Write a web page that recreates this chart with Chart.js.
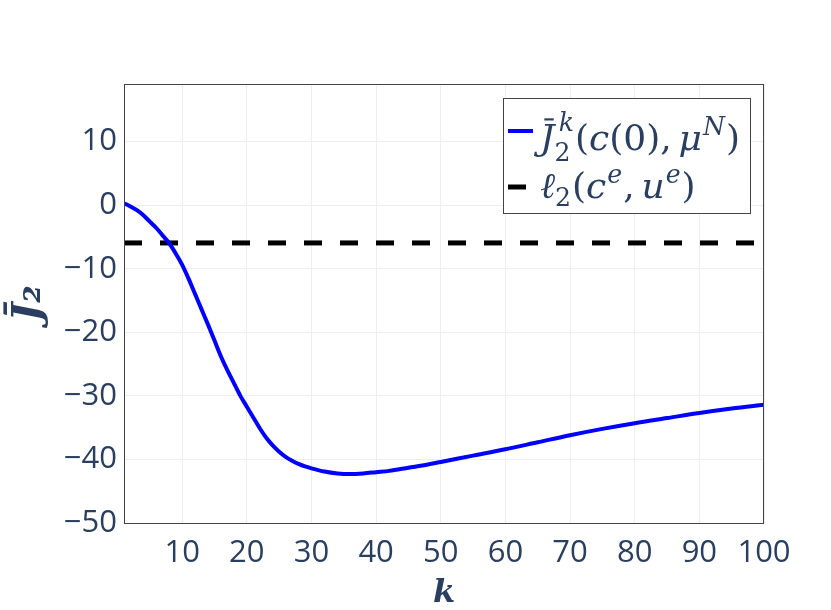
<!DOCTYPE html>
<html>
<head>
<meta charset="utf-8">
<script src="https://cdn.jsdelivr.net/npm/chart.js@4"></script>
<style>
  html, body { margin: 0; padding: 0; background: #fff; }
  #wrap { width: 831px; height: 610px; position: relative; }
</style>
</head>
<body>
<div id="wrap"><canvas id="jChart"></canvas></div>
<script>
// iterations k and the running average J2 bar
const kValues = [1, 2, 3, 4, 5, 6, 7, 8, 9, 10, 11, 12, 13, 14, 15, 16, 17, 18, 19, 20,
    21, 22, 23, 24, 25, 26, 27, 28, 29, 30, 32, 34, 36, 38, 40, 42, 45, 48, 50,
    55, 60, 65, 70, 75, 80, 85, 90, 95, 100];
const jValues = [0.3, -0.2, -0.8, -1.6, -2.6, -3.6, -4.8, -6.0, -7.6, -9.4, -11.6, -14.0, -16.4, -18.8, -21.3, -23.8, -26.0, -28.0, -30.0, -31.7,
    -33.4, -35.1, -36.6, -37.8, -38.8, -39.6, -40.2, -40.7, -41.1, -41.4, -41.9, -42.2, -42.3, -42.2, -42.0, -41.8, -41.3, -40.8, -40.4,
    -39.4, -38.4, -37.3, -36.2, -35.2, -34.3, -33.5, -32.7, -32.0, -31.4];

// steady-state stage cost, constant over k
const refK = [1, 100];
const refValues = [-5.95, -5.95];

const seriesLabels = ['J\u0304_{2}^{k}(c(0), μ^{N})', 'ℓ_{2}(c^{e}, u^{e})'];
const yTicks = [-50, -40, -30, -20, -10, 0, 10];

const textColor = '#2a3f5f';
const mathFont = '"DejaVu Serif"';

// draws a label with simple _{} / ^{} markup (stacked when both follow a char)
function drawMath(ctx, str, x, baseline, size) {
    const tokens = [];
    const re = /([_^])\{([^}]*)\}|([^_^]+)/g;
    let m;
    while ((m = re.exec(str)) !== null) {
        if (m[3]) tokens.push({ kind: 'n', text: m[3] });
        else tokens.push({ kind: m[1] === '_' ? 'sub' : 'sup', text: m[2] });
    }

    function drawRun(text, cx, by, sz) {
        const chars = Array.from(text);
        for (let i = 0; i < chars.length; i++) {
            const ch = chars[i];
            if (ch === '\u0304') continue;
            const italic = /[A-Za-zμℓ]/.test(ch);
            ctx.font = (italic ? 'italic ' : '') + sz + 'px ' + mathFont;
            const w = ctx.measureText(ch).width;
            ctx.fillText(ch, cx, by);
            if (chars[i + 1] === '\u0304') {
                ctx.fillRect(cx + w * 0.3, by - sz * 0.88, w * 0.65, Math.max(1.5, sz * 0.06));
            }
            cx += (ch === ' ' ? w * 0.6 : w);
        }
        return cx;
    }

    const small = size * 0.7;
    let cx = x;
    for (let i = 0; i < tokens.length; i++) {
        const t = tokens[i];
        if (t.kind === 'n') {
            cx = drawRun(t.text, cx, baseline, size);
        } else {
            const nxt = tokens[i + 1];
            if (nxt && nxt.kind !== 'n' && nxt.kind !== t.kind) {
                const sub = t.kind === 'sub' ? t : nxt;
                const sup = t.kind === 'sup' ? t : nxt;
                const e1 = drawRun(sub.text, cx, baseline + size * 0.3, small);
                const e2 = drawRun(sup.text, cx + size * 0.12, baseline - size * 0.52, small);
                cx = Math.max(e1, e2) + 1;
                i++;
            } else if (t.kind === 'sub') {
                cx = drawRun(t.text, cx, baseline + size * 0.22, small) + 1;
            } else {
                cx = drawRun(t.text, cx + 1, baseline - size * 0.42, small) + 1;
            }
        }
    }
    return cx;
}

const framePlugin = {
    id: 'frame',
    afterDraw(chart) {
        const { ctx, chartArea } = chart;
        ctx.save();
        ctx.strokeStyle = '#444';
        ctx.lineWidth = 1;
        ctx.strokeRect(chartArea.left + 0.5, chartArea.top + 0.5,
            chartArea.right - chartArea.left - 1, chartArea.bottom - chartArea.top);
        ctx.restore();
    }
};

const legendPlugin = {
    id: 'boxLegend',
    afterDraw(chart) {
        const { ctx, chartArea } = chart;
        const w = 247, h = 115;
        const x0 = chartArea.right - 14 - w;
        const y0 = chartArea.top + 14;
        ctx.save();
        ctx.fillStyle = '#fff';
        ctx.fillRect(x0, y0, w, h);
        ctx.strokeStyle = '#444';
        ctx.lineWidth = 1;
        ctx.strokeRect(x0 + 0.5, y0 + 0.5, w, h);

        const rows = [{ y: y0 + 33, base: y0 + 52 }, { y: y0 + 89, base: y0 + 100 }];
        chart.data.datasets.forEach((ds, i) => {
            const r = rows[i];
            ctx.strokeStyle = ds.borderColor;
            ctx.lineWidth = ds.borderWidth;
            ctx.setLineDash([]);
            ctx.beginPath();
            ctx.moveTo(x0 + 5, r.y);
            ctx.lineTo(x0 + (i === 0 ? 30 : 23), r.y);
            ctx.stroke();
            ctx.fillStyle = textColor;
            ctx.textBaseline = 'alphabetic';
            drawMath(ctx, seriesLabels[i], x0 + 37, r.base, 36);
        });
        ctx.restore();
    }
};

const ctx = document.getElementById('jChart').getContext('2d');

new Chart(ctx, {
    type: 'line',
    data: {
        datasets: [{
            label: seriesLabels[0],
            data: kValues.map((k, i) => ({ x: k, y: jValues[i] })),
            borderColor: '#0000ff',
            borderWidth: 4,
            pointRadius: 0,
            cubicInterpolationMode: 'monotone',
            fill: false
        }, {
            label: seriesLabels[1],
            data: refK.map((k, i) => ({ x: k, y: refValues[i] })),
            borderColor: '#000000',
            borderWidth: 5,
            borderDash: [18, 18],
            borderCapStyle: 'butt',
            pointRadius: 0,
            fill: false
        }]
    },
    options: {
        responsive: true,
        maintainAspectRatio: false,
        animation: false,
        layout: { padding: { top: 84, right: 67, left: 0, bottom: 0 } },
        plugins: {
            legend: { display: false },
            tooltip: { enabled: false }
        },
        scales: {
            x: {
                type: 'linear',
                min: 1,
                max: 100,
                afterFit: s => { s.height = 87; },
                grid: { color: '#eeeeee', drawTicks: false },
                border: { display: false },
                ticks: {
                    stepSize: 10,
                    includeBounds: false,
                    padding: 12,
                    color: textColor,
                    font: { family: '"Open Sans"', size: 31 },
                    maxRotation: 0
                },
                title: {
                    display: true,
                    text: 'k',
                    color: textColor,
                    font: { family: mathFont, size: 32, style: 'italic', weight: 'bold', lineHeight: 1 },
                    padding: { top: 0, bottom: 0 }
                }
            },
            y: {
                min: -50,
                max: 19.05,
                afterFit: s => { s.width = 124; },
                afterBuildTicks: s => { s.ticks = yTicks.map(v => ({ value: v })); },
                grid: { color: '#eeeeee', drawTicks: false },
                border: { display: false },
                ticks: {
                    padding: 7,
                    color: textColor,
                    font: { family: '"Open Sans"', size: 31 },
                    callback: v => String(v).replace('-', '\u2212')
                },
                title: {
                    display: true,
                    text: 'J\u0304\u2082',
                    color: textColor,
                    font: { family: mathFont, size: 40, style: 'italic', weight: 'bold', lineHeight: 1 },
                    padding: { top: 10, bottom: 0 }
                }
            }
        }
    },
    plugins: [framePlugin, legendPlugin]
});
</script>
</body>
</html>
